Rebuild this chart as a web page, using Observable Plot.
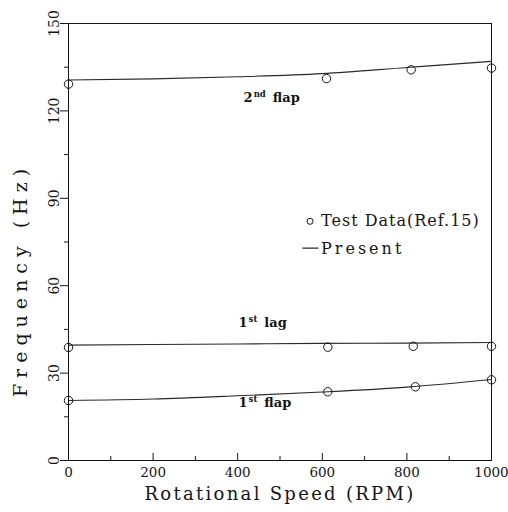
<!DOCTYPE html>
<html><head><meta charset="utf-8">
<script src="https://cdn.jsdelivr.net/npm/d3@7"></script>
<script src="https://cdn.jsdelivr.net/npm/@observablehq/plot@0.6"></script>
<style>
html,body{margin:0;padding:0;background:#fff;}
</style>
</head><body><div id="chart"></div>
<script>
// Predicted curves ("Present")
const rpmCurve   = [0, 200, 400, 600, 800, 1000];
const flap2Curve = [130.6, 131.0, 131.7, 132.8, 134.9, 137.0];
const lag1Curve  = [39.6, 39.8, 40.0, 40.2, 40.3, 40.5];
const flap1Curve = [20.6, 21.1, 22.2, 23.5, 25.2, 27.8];

// Test data (Ref.15)
const testRpmFlap2 = [0, 610, 810, 1000];
const testFlap2    = [129.2, 131.1, 134.1, 134.7];
const testRpmLag1  = [0, 613, 815, 1000];
const testLag1     = [38.8, 38.9, 39.2, 39.2];
const testRpmFlap1 = [0, 613, 820, 1000];
const testFlap1    = [20.6, 23.6, 25.3, 27.7];

// Mode annotations
const modeNames  = ["2nd flap", "1st lag", "1st flap"];
const modeLabelX = [414, 402, 402];
const modeLabelY = [124.6, 47.2, 19.8];

// Ticks
const xLabelTicks = [0, 200, 400, 600, 800, 1000];
const xMinorTicks = [100, 300, 500, 700, 900];
const yLabelTicks = [0, 30, 60, 90, 120, 150];
const yMinorTicks = [15, 45, 75, 105, 135];

// Legend
const legendNames = ["Test Data(Ref.15)", "Present"];
const legendTextX = [597, 597];
const legendTextY = [82.1, 72.5];
const legendDot   = {x: 571, y: 82.1};
const legendLineX = [554, 590];
const legendLineY = 72.9;

const xTitle = "Rotational Speed (RPM)";
const yTitle = "Frequency (Hz)";

// build tables
const curves = [
  ...rpmCurve.map((x, i) => ({mode: "flap2", x, y: flap2Curve[i]})),
  ...rpmCurve.map((x, i) => ({mode: "lag1", x, y: lag1Curve[i]})),
  ...rpmCurve.map((x, i) => ({mode: "flap1", x, y: flap1Curve[i]}))
];
const tests = [
  ...testRpmFlap2.map((x, i) => ({x, y: testFlap2[i]})),
  ...testRpmLag1.map((x, i) => ({x, y: testLag1[i]})),
  ...testRpmFlap1.map((x, i) => ({x, y: testFlap1[i]}))
];
const modeLabels = modeNames.map((t, i) => ({t, x: modeLabelX[i], y: modeLabelY[i]}));
const legendTexts = legendNames.map((t, i) => ({t, x: legendTextX[i], y: legendTextY[i]}));
const legendLine = legendLineX.map(x => ({x, y: legendLineY}));

const ink = "#151515";
const font = "DejaVu Serif";

const chart = Plot.plot({
  width: 508,
  height: 512,
  marginLeft: 68,
  marginRight: 17,
  marginTop: 23,
  marginBottom: 52,
  style: {fontFamily: font, fontSize: "14px", color: ink, background: "#fff", overflow: "visible"},
  x: {domain: [0, 1000], label: null},
  y: {domain: [0, 150], label: null},
  marks: [
    Plot.frame({stroke: ink, strokeWidth: 1}),
    // inward x ticks
    Plot.tickX(xLabelTicks, {x: d => d, stroke: ink, insetTop: 430}),
    Plot.tickX(xMinorTicks, {x: d => d, stroke: ink, insetTop: 433}),
    Plot.axisX({ticks: xLabelTicks, tickSize: 0, tickPadding: 7, fontSize: 13.5, label: null, tickFormat: d => String(d)}),
    // outward y ticks
    Plot.axisY({ticks: yLabelTicks, tickSize: 8, tickFormat: () => "", label: null, stroke: ink}),
    Plot.axisY({ticks: yMinorTicks, tickSize: 4, tickFormat: () => "", label: null, stroke: ink}),
    Plot.text(yLabelTicks, {y: d => d, frameAnchor: "left", textAnchor: "middle", text: d => String(d), rotate: -90, dx: -14, fontSize: 14, fill: ink}),
    // curves
    Plot.line(curves, {x: "x", y: "y", z: "mode", curve: "monotone-x", stroke: "#2a2a2a", strokeWidth: 1.1}),
    Plot.dot(tests, {x: "x", y: "y", r: 4.2, stroke: ink, strokeWidth: 1, fill: "none"}),
    // mode labels
    Plot.text(modeLabels, {x: "x", y: "y", text: "t", textAnchor: "start", fontSize: 13, fontWeight: 600, fill: ink}),
    // legend
    Plot.dot([legendDot], {x: "x", y: "y", r: 3, stroke: ink, strokeWidth: 1, fill: "none"}),
    Plot.line(legendLine, {x: "x", y: "y", stroke: "#2a2a2a", strokeWidth: 1.1}),
    Plot.text(legendTexts, {x: "x", y: "y", text: "t", textAnchor: "start", fontSize: 16, fill: ink}),
    // axis titles
    Plot.text([xTitle], {frameAnchor: "bottom", textAnchor: "middle", text: d => d, dy: 39, fontSize: 18, fill: ink}),
    Plot.text([yTitle], {frameAnchor: "left", textAnchor: "middle", text: d => d, rotate: -90, dx: -48, dy: 38, fontSize: 19, fill: ink})
  ]
});

// post-process: superscripts and letter spacing
chart.querySelectorAll("text").forEach(t => {
  const s = t.textContent;
  const m = s.match(/^(\d)(st|nd|rd|th) (.+)$/);
  if (m && t.children.length === 0) {
    t.textContent = "";
    const ns = "http://www.w3.org/2000/svg";
    const a = document.createElementNS(ns, "tspan"); a.textContent = m[1];
    const b = document.createElementNS(ns, "tspan"); b.textContent = m[2];
    b.setAttribute("font-size", "8.5"); b.setAttribute("dy", "-5"); b.setAttribute("dx", "1");
    const c = document.createElementNS(ns, "tspan"); c.textContent = m[3];
    c.setAttribute("dy", "5"); c.setAttribute("dx", "7");
    t.append(a, b, c);
  }
  if (s === xTitle) t.setAttribute("letter-spacing", "2.3");
  if (s === yTitle) t.setAttribute("letter-spacing", "6");
  if (s === legendNames[0]) t.setAttribute("letter-spacing", "1");
  if (s === legendNames[1]) t.setAttribute("letter-spacing", "3");
});

document.getElementById("chart").appendChild(chart);
</script>
</body></html>
